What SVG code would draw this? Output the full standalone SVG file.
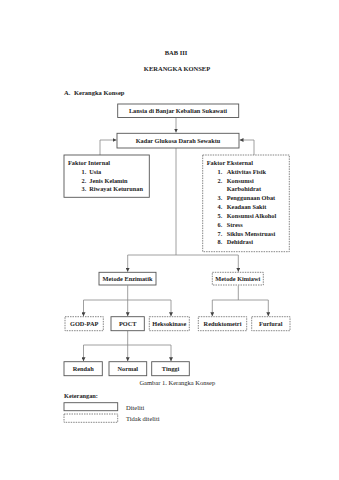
<svg xmlns="http://www.w3.org/2000/svg" width="339" height="480" viewBox="0 0 339 480">
<style>
text{font-family:"Liberation Serif","Times New Roman",serif;fill:#222}
.t{font-size:6.5px;font-weight:bold}
.b{font-size:6.3px;font-weight:bold}
.r{font-size:6.5px}
.s{fill:#fff;stroke:#555;stroke-width:0.9}
.d{fill:#fff;stroke:#666;stroke-width:0.8;stroke-dasharray:1.5 1}
.c{fill:none;stroke:#888;stroke-width:0.8}
</style>
<defs>
<marker id="a" viewBox="0 0 6 6" refX="6" refY="3" markerWidth="4" markerHeight="4" orient="auto" markerUnits="userSpaceOnUse">
<path d="M0,0 L6,3 L0,6 z" fill="#444"/>
</marker>
</defs>
<rect width="339" height="480" fill="#fff"/>
<g id="header">
<text class="t" x="176" y="55" text-anchor="middle">BAB III</text>
<text class="t" x="177" y="71" text-anchor="middle">KERANGKA KONSEP</text>
<text class="t" x="64" y="95">A.</text>
<text class="t" x="74" y="95">Kerangka Konsep</text>
</g>
<g id="connectors">
<path class="c" d="M176,117.5 V132.5" marker-end="url(#a)"/>
<path class="c" d="M100,155 V140 H116.5" marker-end="url(#a)"/>
<path class="c" d="M254,155 V140 H239.5" marker-end="url(#a)"/>
<path class="c" d="M176,148 V255"/>
<path class="c" d="M127.7,255 H238.3"/>
<path class="c" d="M127.7,255 V271.8" marker-end="url(#a)"/>
<path class="c" d="M238.3,255 V271.8" marker-end="url(#a)"/>
<path class="c" d="M127.7,285.5 V316.2" marker-end="url(#a)"/>
<path class="c" d="M83.5,300 H171"/>
<path class="c" d="M83.5,300 V316.2" marker-end="url(#a)"/>
<path class="c" d="M171,300 V316.2" marker-end="url(#a)"/>
<path class="c" d="M238.3,285.5 V300"/>
<path class="c" d="M212.3,300 H268.3"/>
<path class="c" d="M212.3,300 V316.2" marker-end="url(#a)"/>
<path class="c" d="M268.3,300 V316.2" marker-end="url(#a)"/>
<path class="c" d="M127.7,331 V345"/>
<path class="c" d="M83.5,345 H171"/>
<path class="c" d="M83.5,345 V361.2" marker-end="url(#a)"/>
<path class="c" d="M127.7,345 V361.2" marker-end="url(#a)"/>
<path class="c" d="M171,345 V361.2" marker-end="url(#a)"/>
</g>
<g id="lansia">
<rect class="s" x="117.7" y="104" width="121" height="13.5"/>
<text class="b" x="178" y="113" text-anchor="middle">Lansia di Banjar Kebalian Sukawati</text>
</g>
<g id="kadar">
<rect class="s" x="117" y="133.3" width="122" height="14.7"/>
<text class="b" x="178" y="143" text-anchor="middle">Kadar Glukosa Darah Sewaktu</text>
</g>
<g id="internal">
<rect class="s" x="64" y="155" width="85.3" height="42.3"/>
<text class="b" x="68" y="165">Faktor Internal</text>
<text class="b" x="81.5" y="174">1.</text><text class="b" x="89.3" y="174">Usia</text>
<text class="b" x="81.5" y="182.7">2.</text><text class="b" x="89.3" y="182.7">Jenis Kelamin</text>
<text class="b" x="81.5" y="191.3">3.</text><text class="b" x="89.3" y="191.3">Riwayat Keturunan</text>
</g>
<g id="eksternal">
<rect class="d" x="202.7" y="155" width="86.6" height="96.7"/>
<text class="b" x="206.7" y="165">Faktor Eksternal</text>
<text class="b" x="217.5" y="174">1.</text><text class="b" x="226.7" y="174">Aktivitas Fisik</text>
<text class="b" x="217.5" y="182.7">2.</text><text class="b" x="226.7" y="182.7">Konsumsi</text>
<text class="b" x="226.7" y="191.4">Karbohidrat</text>
<text class="b" x="217.5" y="200.1">3.</text><text class="b" x="226.7" y="200.1">Penggunaan Obat</text>
<text class="b" x="217.5" y="208.8">4.</text><text class="b" x="226.7" y="208.8">Keadaan Sakit</text>
<text class="b" x="217.5" y="217.7">5.</text><text class="b" x="226.7" y="217.7">Konsumsi Alkohol</text>
<text class="b" x="217.5" y="226.6">6.</text><text class="b" x="226.7" y="226.6">Stress</text>
<text class="b" x="217.5" y="235.5">7.</text><text class="b" x="226.7" y="235.5">Siklus Menstruasi</text>
<text class="b" x="217.5" y="244.4">8.</text><text class="b" x="226.7" y="244.4">Dehidrasi</text>
</g>
<g id="enzimatik">
<rect class="s" x="99" y="272.3" width="57" height="12.7"/>
<text class="b" x="127.5" y="281" text-anchor="middle">Metode Enzimatik</text>
</g>
<g id="kimiawi">
<rect class="d" x="212.3" y="272.3" width="51" height="12.7"/>
<text class="b" x="237.8" y="281" text-anchor="middle">Metode Kimiawi</text>
</g>
<g id="godpap">
<rect class="d" x="65" y="316.7" width="38.3" height="14"/>
<text class="b" x="84.2" y="326" text-anchor="middle">GOD-PAP</text>
</g>
<g id="poct">
<rect class="s" x="111" y="316.7" width="33.3" height="14"/>
<text class="b" x="127.7" y="326" text-anchor="middle">POCT</text>
</g>
<g id="heksokinase">
<rect class="d" x="149.3" y="316.7" width="40" height="14"/>
<text class="b" x="169.3" y="326" text-anchor="middle">Heksokinase</text>
</g>
<g id="reduktometri">
<rect class="d" x="198.3" y="316.7" width="48.4" height="14"/>
<text class="b" x="222.5" y="326" text-anchor="middle">Reduktometri</text>
</g>
<g id="furfural">
<rect class="d" x="251.7" y="316.7" width="38.3" height="14"/>
<text class="b" x="270.8" y="326" text-anchor="middle">Furfural</text>
</g>
<g id="rendah">
<rect class="s" x="64" y="361.7" width="38.3" height="14"/>
<text class="b" x="83.2" y="371" text-anchor="middle">Rendah</text>
</g>
<g id="normal">
<rect class="s" x="109" y="361.7" width="37.7" height="14"/>
<text class="b" x="127.8" y="371" text-anchor="middle">Normal</text>
</g>
<g id="tinggi">
<rect class="s" x="151.7" y="361.7" width="37.6" height="14"/>
<text class="b" x="170.5" y="371" text-anchor="middle">Tinggi</text>
</g>
<g id="caption">
<text class="r" x="177.3" y="384.5" text-anchor="middle">Gambar 1. Kerangka Konsep</text>
</g>
<g id="legend">
<text class="b" x="64" y="398">Keterangan:</text>
<rect class="s" x="64" y="402.7" width="53.7" height="8"/>
<text class="r" x="126" y="409.5">Diteliti</text>
<rect class="d" x="64" y="414" width="53.7" height="8.3"/>
<text class="r" x="126" y="421">Tidak diteliti</text>
</g>
</svg>
